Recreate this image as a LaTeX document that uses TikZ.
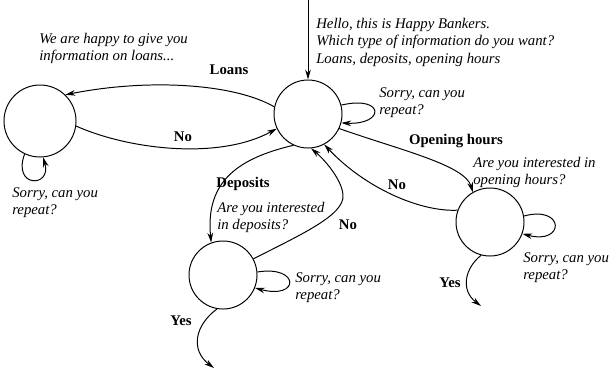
\documentclass[tikz,border=0pt]{standalone}
\usepackage{fontspec}
\setmainfont{Liberation Serif}
\usetikzlibrary{arrows.meta}

\begin{document}
\begin{tikzpicture}[
    x=0.025cm, y=-0.025cm,
    every node/.style={font=\fontsize{10.5}{12.4}\selectfont},
    state/.style={circle, draw, line width=0.7pt, minimum size=1.7cm, inner sep=0pt},
    arrow/.style={-{Stealth[length=7pt, width=4pt]}, line width=0.7pt},
    say/.style={font=\fontsize{10.5}{12.4}\selectfont\itshape, align=left, anchor=north west, inner sep=0pt},
    answer/.style={font=\fontsize{10.5}{12}\selectfont\bfseries, inner sep=0pt}
]

\useasboundingbox (0,0) rectangle (610,369);

\node[state] (main) at (308,114) {};
\node[state, minimum size=1.8cm] (loans) at (40,121) {};
\node[state] (deposits) at (223,275) {};
\node[state] (hours) at (490,222) {};

\coordinate (start) at (308,0);
\coordinate (depend) at (214,368);
\coordinate (hoursend) at (481,306);

% Prompts
\node[say] (greet) at (316,18) {Hello, this is Happy Bankers.\\ Which type of information do you want?\\ Loans, deposits, opening hours};
\node[say] (loansmsg) at (39,33) {We are happy to give you\\ information on loans...};
\node[say] (hoursmsg) at (473,157) {Are you interested in\\ opening hours?};
\node[say] (depmsg) at (217,202) {Are you interested\\ in deposits?};

\node[say] (loansrep) at (12,187) {Sorry, can you\\ repeat?};
\node[say] (mainrep) at (379,87) {Sorry, can you\\ repeat?};
\node[say] (deprep) at (295,272) {Sorry, can you\\ repeat?};
\node[say] (hoursrep) at (523,252) {Sorry, can you\\ repeat?};

% Answers
\node[answer] (loanslbl) at (229,70) {Loans};
\node[answer] (noloans) at (183,137) {No};
\node[answer] (hourslbl) at (456,141) {Opening hours};
\node[answer] (nohours) at (397,185) {No};
\node[answer] (deplbl) at (243,184) {Deposits};
\node[answer] (nodep) at (348,225) {No};
\node[answer] (yesdep) at (181,321) {Yes};
\node[answer] (yeshours) at (450,283) {Yes};

% Transitions
\draw[arrow] (start) -- (main);
\draw[arrow] (main.168) .. controls (235,84) and (150,78) .. (loans.46);
\draw[arrow] (loans.-8) .. controls (130,150) and (220,160) .. (main.205);
\draw[arrow] (main.-25) .. controls (400,150) and (465,165) .. (hours.120);
\draw[arrow] (hours.160) .. controls (420,212) and (365,188) .. (main.-62);
\draw[arrow] (main.-115) .. controls (240,158) and (205,180) .. (deposits.110);
\draw[arrow] (deposits.28) .. controls (300,235) and (345,215) .. (343,195) .. controls (342,180) and (325,160) .. (main.-85);
\draw[arrow] (deposits.-100) .. controls (195,325) and (190,350) .. (depend);
\draw[arrow] (hours.-105) .. controls (465,268) and (460,290) .. (hoursend);

% Self loops
\draw[arrow] (loans.245) .. controls (12,188) and (52,188) .. (loans.275);
\draw[arrow] (main.15) .. controls (385,95) and (385,125) .. (main.-15);
\draw[arrow] (deposits.5) .. controls (300,265) and (300,300) .. (deposits.-22);
\draw[arrow] (hours.10) .. controls (565,205) and (565,245) .. (hours.-20);

\end{tikzpicture}
\end{document}
